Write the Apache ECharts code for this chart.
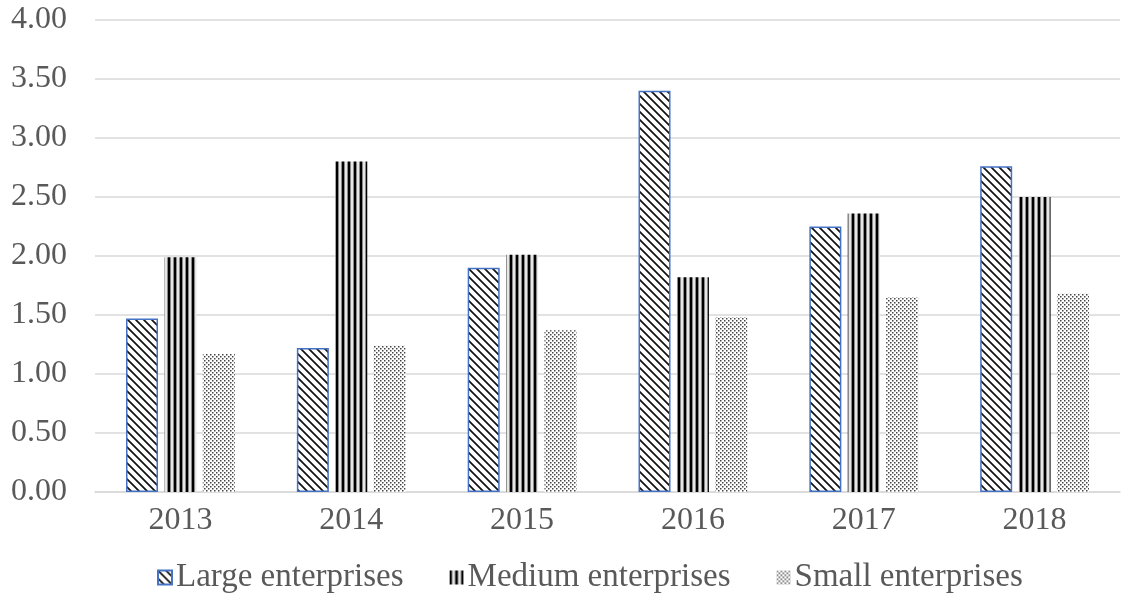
<!DOCTYPE html>
<html>
<head>
<meta charset="utf-8">
<script src="https://cdn.jsdelivr.net/npm/echarts@6/dist/echarts.min.js"></script>
<style>
  html, body { margin: 0; padding: 0; background: #fff; }
  #chart { width: 1139px; height: 609px; }
</style>
</head>
<body>
<div id="chart"></div>
<script>
const years = ['2013', '2014', '2015', '2016', '2017', '2018'];
const largeValues = [1.47, 1.22, 1.90, 3.40, 2.25, 2.76];
const mediumValues = [1.99, 2.80, 2.01, 1.82, 2.36, 2.50];
const smallValues = [1.17, 1.24, 1.37, 1.48, 1.65, 1.68];
const seriesNames = ['Large enterprises', 'Medium enterprises', 'Small enterprises'];

// Fill patterns for the three bar series
function makeTile(w, h, draw) {
  const c = document.createElement('canvas');
  c.width = w; c.height = h;
  const ctx = c.getContext('2d');
  ctx.fillStyle = '#ffffff';
  ctx.fillRect(0, 0, w, h);
  draw(ctx);
  return c;
}

// Diagonal "\" hatch
const diagTile = makeTile(8, 8, ctx => {
  ctx.strokeStyle = '#111111';
  ctx.lineWidth = 1.7;
  ctx.beginPath();
  ctx.moveTo(-2, -2); ctx.lineTo(10, 10);
  ctx.moveTo(-10, -2); ctx.lineTo(2, 10);
  ctx.moveTo(6, -2); ctx.lineTo(18, 10);
  ctx.stroke();
});

// Vertical stripes
const vertTile = makeTile(6, 4, ctx => {
  ctx.fillStyle = '#000000';
  ctx.fillRect(0, 0, 2, 4);
  ctx.fillStyle = '#8a8a8a';
  ctx.fillRect(2, 0, 1, 4);
  ctx.fillStyle = '#e6e6e6';
  ctx.fillRect(3, 0, 2, 4);
  ctx.fillStyle = '#8a8a8a';
  ctx.fillRect(5, 0, 1, 4);
});

// Dotted fill
const dotTile = makeTile(4, 4, ctx => {
  ctx.fillStyle = '#444444';
  ctx.fillRect(0, 0, 1.5, 1.5);
  ctx.fillRect(2, 2, 1.5, 1.5);
});

const fontFamily = '"Liberation Serif", "Times New Roman", serif';

const chart = echarts.init(document.getElementById('chart'), null, { renderer: 'canvas' });
chart.setOption({
  animation: false,
  backgroundColor: '#ffffff',
  textStyle: { fontFamily: fontFamily },
  grid: { left: 95, right: 19, top: 20, bottom: 117, containLabel: false },
  legend: {
    data: seriesNames,
    bottom: 10,
    left: 152,
    itemWidth: 14,
    itemHeight: 14,
    itemGap: 46,
    icon: 'rect',
    textStyle: { fontFamily: fontFamily, fontSize: 33, color: '#595959', padding: [0, 0, 0, -1] }
  },
  xAxis: {
    type: 'category',
    data: years,
    axisLine: { lineStyle: { color: '#d9d9d9', width: 1.5 } },
    axisTick: { show: false },
    axisLabel: { fontFamily: fontFamily, fontSize: 32, color: '#595959', margin: 13 }
  },
  yAxis: {
    type: 'value',
    min: 0,
    max: 4,
    interval: 0.5,
    axisLine: { show: false },
    axisTick: { show: false },
    splitLine: { lineStyle: { color: '#d9d9d9', width: 1.5 } },
    axisLabel: {
      fontFamily: fontFamily, fontSize: 32, color: '#595959', margin: 28,
      formatter: v => v.toFixed(2)
    }
  },
  series: [
    {
      name: seriesNames[0],
      type: 'bar',
      data: largeValues,
      barWidth: 32,
      barGap: '20%',
      itemStyle: {
        color: { image: diagTile, repeat: 'repeat' },
        borderColor: '#4472c4',
        borderWidth: 1.5
      }
    },
    {
      name: seriesNames[1],
      type: 'bar',
      data: mediumValues,
      barWidth: 32,
      barGap: '20%',
      itemStyle: { color: { image: vertTile, repeat: 'repeat' } }
    },
    {
      name: seriesNames[2],
      type: 'bar',
      data: smallValues,
      barWidth: 32,
      barGap: '20%',
      itemStyle: { color: { image: dotTile, repeat: 'repeat' } }
    }
  ]
});
</script>
</body>
</html>
